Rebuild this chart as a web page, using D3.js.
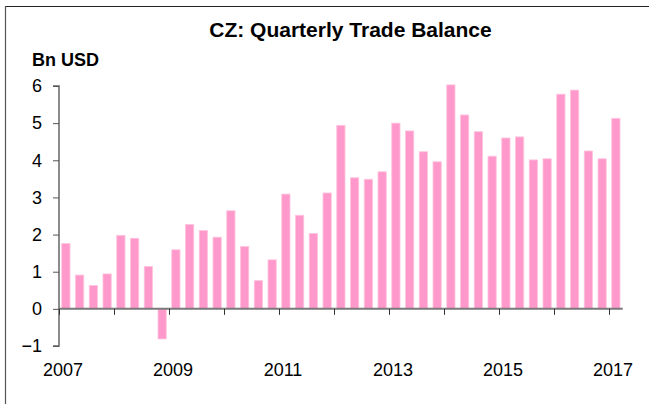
<!DOCTYPE html>
<html>
<head>
<meta charset="utf-8">
<script src="https://cdn.jsdelivr.net/npm/d3@7"></script>
<style>
  html, body { margin: 0; padding: 0; background: #fff; }
  svg { display: block; font-family: "Liberation Sans", Arial, sans-serif; }
</style>
</head>
<body>
<svg id="chart" width="649" height="404"></svg>
<script>
const quarters = [];
for (let y = 2007; y <= 2017; y++) {
  for (let q = 1; q <= 4; q++) {
    if (y === 2017 && q > 1) break;
    quarters.push(y + "Q" + q);
  }
}
const values = [
  1.76, 0.91, 0.63, 0.94,
  1.98, 1.90, 1.14, -0.81,
  1.59, 2.27, 2.11, 1.93,
  2.64, 1.68, 0.76, 1.32,
  3.09, 2.52, 2.03, 3.12,
  4.94, 3.53, 3.49, 3.69,
  5.00, 4.79, 4.23, 3.96,
  6.03, 5.22, 4.77, 4.11,
  4.60, 4.63, 4.01, 4.04,
  5.78, 5.89, 4.25, 4.04,
  5.13
];
const yTicks = [-1, 0, 1, 2, 3, 4, 5, 6];
const yearTicks = [2007, 2008, 2009, 2010, 2011, 2012, 2013, 2014, 2015, 2016, 2017];
const yearLabels = [2007, 2009, 2011, 2013, 2015, 2017];
const title = "CZ: Quarterly Trade Balance";
const unitLabel = "Bn USD";

const svg = d3.select("#chart");

// frame (top and left edges visible)
svg.append("line").attr("x1", 5).attr("x2", 649).attr("y1", 6.5).attr("y2", 6.5)
  .attr("stroke", "#222").attr("stroke-width", 1.2);
svg.append("line").attr("x1", 5.5).attr("x2", 5.5).attr("y1", 6).attr("y2", 404)
  .attr("stroke", "#555").attr("stroke-width", 1.2);

const x = d3.scaleBand().domain(quarters).range([59, 622.75]).paddingInner(0.4).paddingOuter(0.2);
const y = d3.scaleLinear().domain([-1, 6]).range([346, 86]);

const step = x.step();
const x0 = x(quarters[0]) - step * x.paddingOuter();
const xYear = d3.scaleLinear().domain([2007, 2017]).range([x0, x(quarters[0]) - step * 0.2 + 40 * step]);

// bars
svg.append("g").selectAll("rect").data(values).join("rect")
  .attr("x", (d, i) => x(quarters[i]))
  .attr("width", x.bandwidth())
  .attr("y", d => y(Math.max(0, d)))
  .attr("height", d => Math.abs(y(d) - y(0)))
  .attr("fill", "#ff99cc")
  .attr("stroke", "#ffc4de")
  .attr("stroke-width", 0.8);

// y axis
const yAxis = svg.append("g").attr("transform", "translate(59,0)")
  .call(d3.axisLeft(y).tickValues(yTicks).tickSize(6).tickPadding(11).tickFormat(d3.format("d")));
yAxis.select(".domain").attr("stroke", "#666").attr("stroke-width", 1.5).attr("d", `M-6,${y(6)}H0V${y(-1)}H-6`);
yAxis.selectAll(".tick line").attr("stroke", "#555");
yAxis.selectAll(".tick text").attr("font-size", 18).attr("fill", "#000")
  .attr("font-family", "Liberation Sans, Arial, sans-serif");

// x axis (baseline at zero)
const xAxis = svg.append("g").attr("transform", `translate(0,${y(0)})`)
  .call(d3.axisBottom(xYear).tickValues(yearTicks).tickSize(6).tickFormat(""));
xAxis.select(".domain").attr("stroke", "#7a7a7a").attr("stroke-width", 2)
  .attr("d", `M${x0},0H${x0 + quarters.length * step}`);
xAxis.selectAll(".tick line").attr("stroke", "#333");

// year labels
svg.append("g").selectAll("text").data(yearLabels).join("text")
  .attr("x", d => xYear(d) + 4)
  .attr("y", 375.5)
  .attr("text-anchor", "middle")
  .attr("font-size", 18)
  .attr("fill", "#000")
  .text(d => d);

// title
svg.append("text").attr("x", 350.5).attr("y", 37.3).attr("text-anchor", "middle")
  .attr("font-size", 21).attr("font-weight", "bold").attr("fill", "#000").text(title);

// unit
svg.append("text").attr("x", 32).attr("y", 65.7)
  .attr("font-size", 18).attr("font-weight", "bold").attr("fill", "#000").text(unitLabel);
</script>
</body>
</html>
